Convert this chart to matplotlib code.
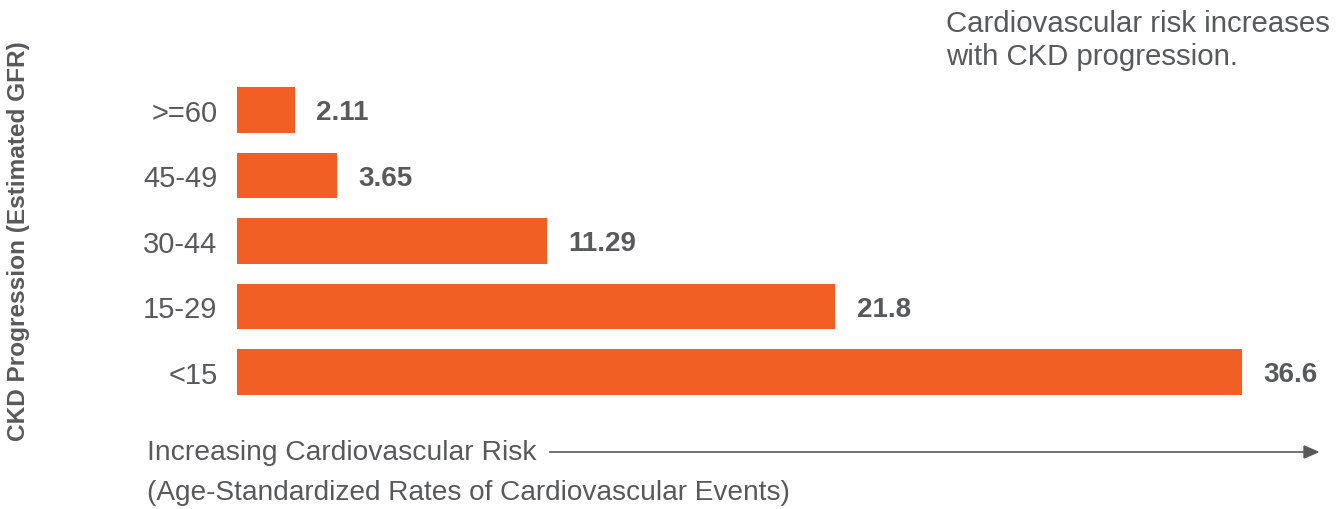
import matplotlib.pyplot as plt

plt.rcParams['font.family'] = ['Liberation Sans', 'DejaVu Sans']

# CKD stage (estimated GFR) and age-standardized rate of CV events
stages = ['>=60', '45-49', '30-44', '15-29', '<15']
rates = [2.11, 3.65, 11.29, 21.8, 36.6]
rate_labels = ['2.11', '3.65', '11.29', '21.8', '36.6']

orange = '#F15F24'
grey = '#58595B'

W, H = 1338, 510
fig = plt.figure(figsize=(W / 100, H / 100), dpi=100)
ax = fig.add_axes([237 / W, 1 - 405.75 / H, (1335 - 237) / W, (405.75 - 78.25) / H])

ypos = list(range(len(stages)))
ax.barh(ypos, rates, height=0.70, color=orange)
ax.set_xlim(0, 40)
ax.set_ylim(4.5, -0.5)

ax.set_yticks(ypos)
ax.set_yticklabels(stages, fontsize=21, color=grey)
ax.tick_params(axis='y', length=0, pad=14)
ax.set_xticks([])
for s in ax.spines.values():
    s.set_visible(False)

# value labels to the right of each bar
for y, v, lab in zip(ypos, rates, rate_labels):
    ax.annotate(lab, (v, y), xytext=(15.5, -1.5), textcoords='offset points',
                va='center', ha='left', fontsize=20, fontweight='bold',
                color=grey, annotation_clip=False)

fig.text(19 / W, 1 - 241 / H, 'CKD Progression (Estimated GFR)', rotation=90,
         ha='center', va='center', fontsize=17.6, fontweight='bold', color=grey)

fig.text(946 / W, 1 - 10 / H, 'Cardiovascular risk increases\nwith CKD progression.',
         ha='left', va='top', fontsize=21.2, color=grey, linespacing=1.22)

fig.text(147 / W, 1 - 453 / H, 'Increasing Cardiovascular Risk',
         ha='left', va='center', fontsize=20.3, color=grey)
fig.text(147 / W, 1 - 493 / H, '(Age-Standardized Rates of Cardiovascular Events)',
         ha='left', va='center', fontsize=20.2, color=grey)

# arrow along the bottom
fig.add_artist(plt.Line2D([550 / W, 1305 / W], [1 - 453 / H, 1 - 453 / H],
                          color=grey, lw=1.2))
fig.patches.append(plt.Polygon([[1304 / W, 1 - 447 / H], [1318 / W, 1 - 453 / H],
                                [1304 / W, 1 - 459 / H]], closed=True,
                               color=grey, transform=fig.transFigure, figure=fig))

fig.savefig('out.png', dpi=100, facecolor='white')
